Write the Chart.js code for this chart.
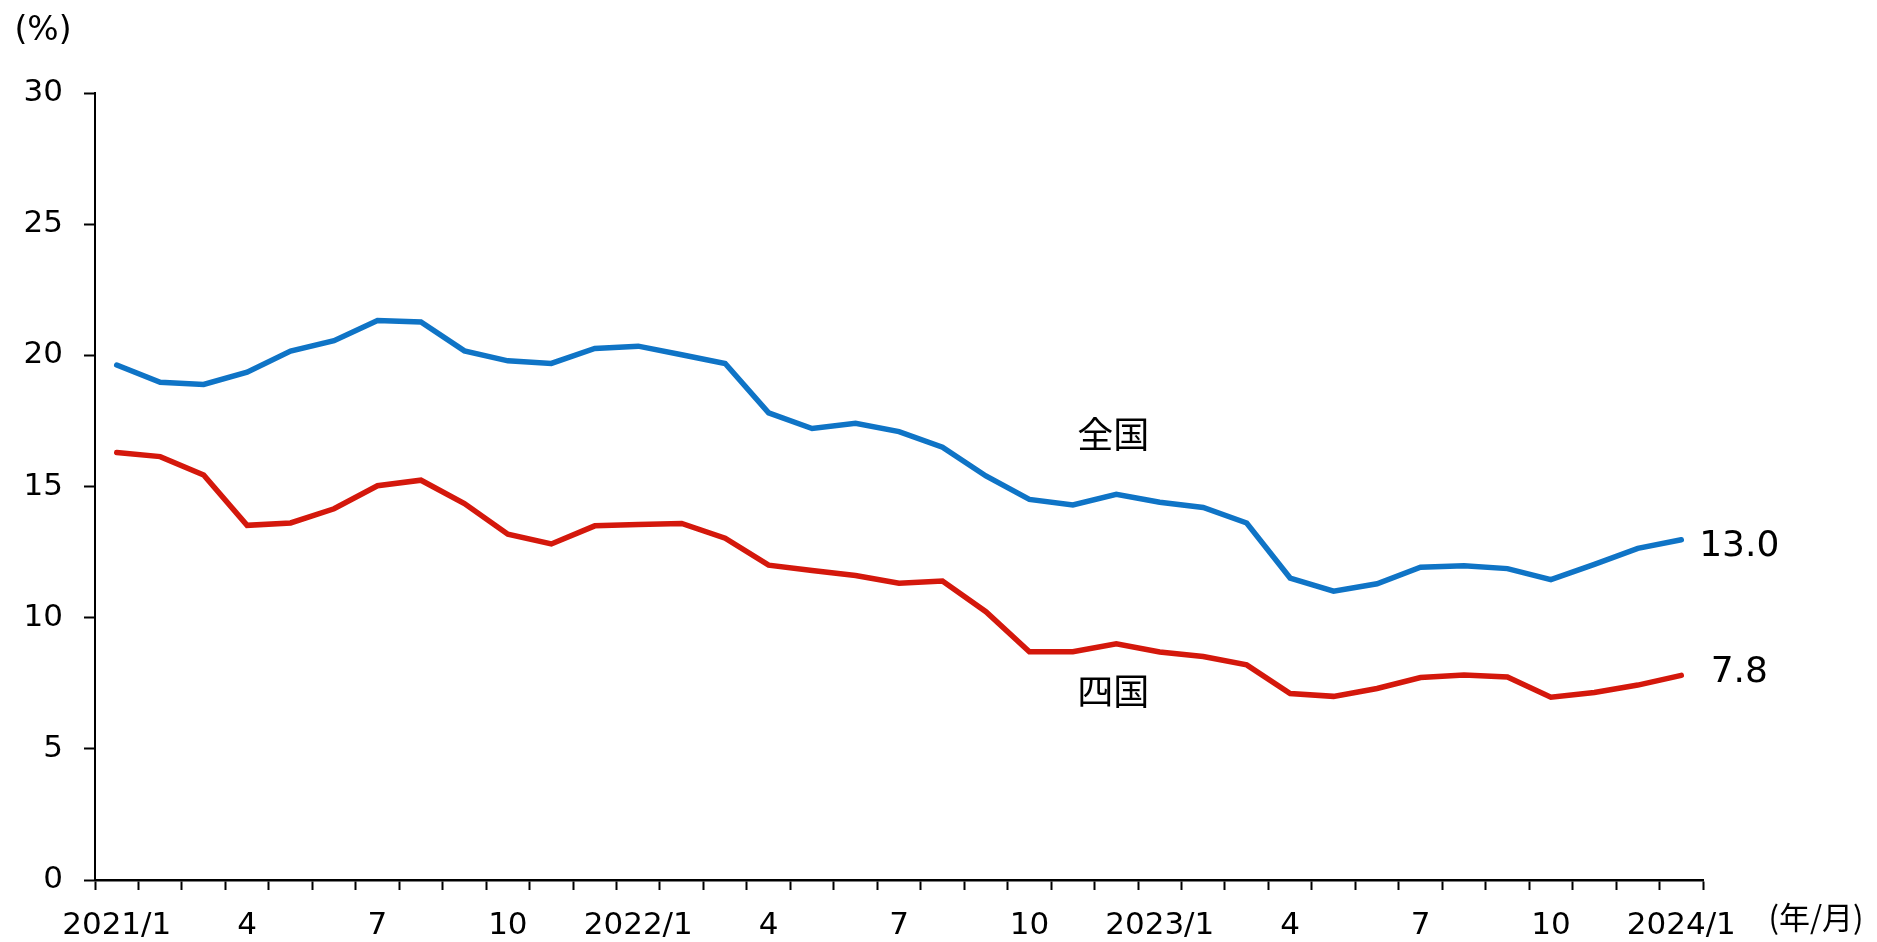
<!DOCTYPE html>
<html lang="ja">
<head>
<meta charset="utf-8">
<script src="https://cdn.jsdelivr.net/npm/chart.js@4/dist/chart.umd.min.js"></script>
<style>
    html, body { margin: 0; padding: 0; background: #fff; }
    #wrap { width: 1877px; height: 942px; position: relative; }
</style>
</head>
<body>
<div id="wrap"><canvas id="rateChart"></canvas></div>
<script>
// 2021/1 - 2024/1 monthly
const months = [
    '2021/1', '2', '3', '4', '5', '6', '7', '8', '9', '10', '11', '12',
    '2022/1', '2', '3', '4', '5', '6', '7', '8', '9', '10', '11', '12',
    '2023/1', '2', '3', '4', '5', '6', '7', '8', '9', '10', '11', '12',
    '2024/1'
];

const zenkoku = [
    19.63, 18.97, 18.89, 19.36, 20.16, 20.56, 21.33, 21.27, 20.17, 19.79, 19.69, 20.26,
    20.35, 20.02, 19.69, 17.81, 17.21, 17.41, 17.09, 16.50, 15.40, 14.51, 14.30, 14.70,
    14.40, 14.20, 13.61, 11.51, 11.01, 11.29, 11.92, 11.98, 11.87, 11.45, 12.03, 12.64,
    12.97
];

const shikoku = [
    16.30, 16.14, 15.44, 13.52, 13.61, 14.15, 15.03, 15.24, 14.35, 13.18, 12.81, 13.50,
    13.55, 13.59, 13.03, 12.00, 11.80, 11.61, 11.31, 11.40, 10.23, 8.70, 8.70, 9.00,
    8.69, 8.52, 8.20, 7.11, 7.00, 7.30, 7.72, 7.81, 7.74, 6.97, 7.15, 7.43,
    7.80
];

const yTicks = [0, 5, 10, 15, 20, 25, 30];

const BLUE = '#0f74c6';
const RED = '#d4180c';
const LATIN = '"DejaVu Sans", Verdana, sans-serif';
const CJK = '"Noto Sans CJK JP", "DejaVu Sans", sans-serif';

// text drawn around the plot: units, series names, last values
const annotations = {
    id: 'annotations',
    afterDraw(chart) {
        const { ctx, scales: { x, y } } = chart;
        const last = months.length - 1;
        ctx.save();
        ctx.fillStyle = '#000';
        ctx.textAlign = 'center';
        ctx.textBaseline = 'middle';

        ctx.font = '33px ' + LATIN;
        ctx.fillText('(%)', 43, 31);

        ctx.font = '31px ' + CJK;
        ctx.fillText('(年/月)', 1816, 917);

        ctx.font = '36px ' + CJK;
        ctx.fillText('全国', x.getPixelForValue(23) - 3, y.getPixelForValue(17.0));
        ctx.fillText('四国', x.getPixelForValue(23) - 3, y.getPixelForValue(7.2));

        ctx.font = '36px ' + LATIN;
        ctx.fillText(zenkoku[last].toFixed(1), x.getPixelForValue(last) + 58, y.getPixelForValue(zenkoku[last]) + 7);
        ctx.fillText(shikoku[last].toFixed(1), x.getPixelForValue(last) + 58, y.getPixelForValue(shikoku[last]) - 3);
        ctx.restore();
    }
};

new Chart(document.getElementById('rateChart'), {
    type: 'line',
    data: {
        labels: months,
        datasets: [
            {
                label: '全国',
                data: zenkoku,
                borderColor: BLUE,
                borderWidth: 5.5,
                borderCapStyle: 'round',
                pointRadius: 0,
                tension: 0
            },
            {
                label: '四国',
                data: shikoku,
                borderColor: RED,
                borderWidth: 5.5,
                borderCapStyle: 'round',
                pointRadius: 0,
                tension: 0
            }
        ]
    },
    options: {
        responsive: true,
        maintainAspectRatio: false,
        animation: false,
        layout: { padding: { top: 93, right: 174, left: 0, bottom: 0 } },
        plugins: { legend: { display: false }, tooltip: { enabled: false } },
        scales: {
            x: {
                offset: true,
                border: { color: '#000', width: 2.5 },
                grid: {
                    offset: true,
                    drawOnChartArea: false,
                    drawTicks: true,
                    tickLength: 10,
                    tickColor: '#000',
                    tickWidth: 2
                },
                ticks: {
                    autoSkip: false,
                    maxRotation: 0,
                    padding: 17,
                    color: '#000',
                    font: { family: LATIN, size: 31 },
                    callback: (val, i) => (i % 3 === 0 ? months[i] : '')
                },
                afterFit: (scale) => { scale.height = 62; }
            },
            y: {
                min: 0,
                max: 30,
                border: { color: '#000', width: 2 },
                grid: {
                    drawOnChartArea: false,
                    drawTicks: true,
                    tickLength: 11,
                    tickColor: '#000',
                    tickWidth: 2
                },
                afterBuildTicks: (scale) => {
                    scale.ticks = yTicks.map(v => ({ value: v }));
                },
                ticks: {
                    padding: 21,
                    color: '#000',
                    font: { family: LATIN, size: 31 }
                },
                afterFit: (scale) => { scale.width = 95; }
            }
        }
    },
    plugins: [annotations]
});
</script>
</body>
</html>
